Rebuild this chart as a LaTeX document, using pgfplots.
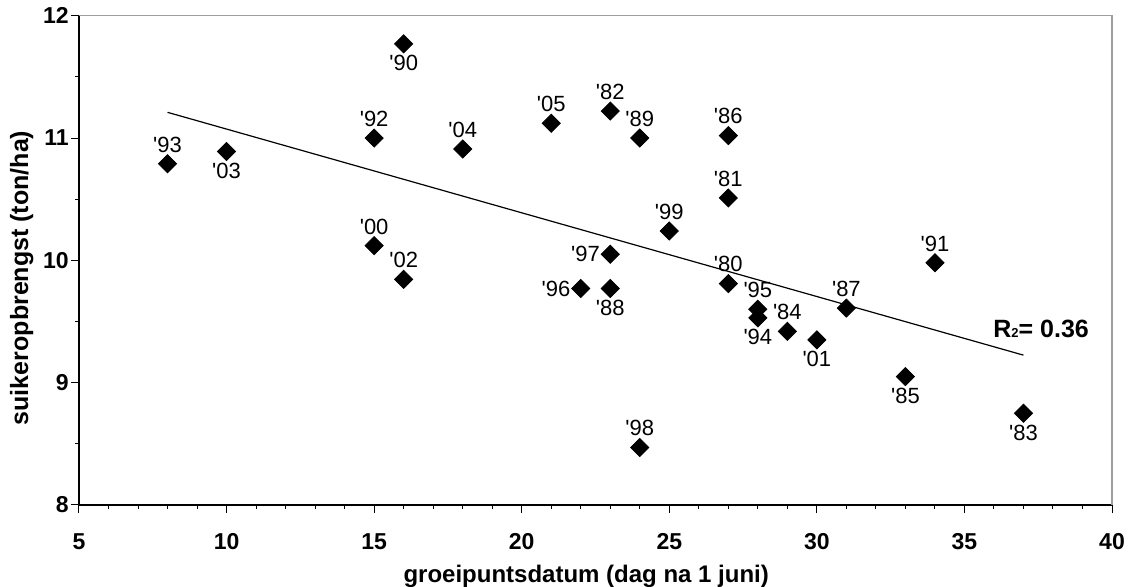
\documentclass[border=0pt]{standalone}
\usepackage{pgfplots}
\pgfplotsset{compat=1.18}
\usepackage{pgfplotstable}
\usepackage{fontspec}
\setmainfont{Liberation Sans}[Ligatures=TeXOff]

\pgfplotstableread{
x y
8 10.79
10 10.89
15 11.00
15 10.12
16 11.77
16 9.845
18 10.91
21 11.12
22 9.77
23 11.22
23 10.05
23 9.77
24 11.00
24 8.47
25 10.24
27 11.02
27 10.51
27 9.81
28 9.60
28 9.53
29 9.42
30 9.35
31 9.61
33 9.05
34 9.98
37 8.75
}\pts

\pgfplotstableread{
x y lab
8 10.79 '93
15 11.00 '92
15 10.12 '00
16 9.845 '02
18 10.91 '04
21 11.12 '05
23 11.22 '82
24 11.00 '89
24 8.47 '98
25 10.24 '99
27 11.02 '86
27 10.51 '81
27 9.81 '80
28 9.60 '95
29 9.42 '84
31 9.61 '87
34 9.98 '91
}\above

\pgfplotstableread{
x y lab
10 10.89 '03
16 11.77 '90
23 9.77 '88
28 9.53 '94
30 9.35 '01
33 9.05 '85
37 8.75 '83
}\below

\pgfplotstableread{
x y lab
22 9.77 '96
23 10.05 '97
}\leftlab

\begin{document}
\begin{tikzpicture}
\begin{axis}[
  scale only axis,
  width=516.5pt, height=244.65pt,
  xmin=5, xmax=40, ymin=8, ymax=12,
  axis lines*=left,
  axis line style={-, black, line width=0.6pt},
  xtick={5,10,...,40}, ytick={8,9,10,11,12},
  minor x tick num=4, minor y tick num=1,
  tick align=outside,
  major tick length=4pt, minor tick length=2pt,
  tick style={black, line width=0.5pt},
  /pgf/number format/assume math mode=true,
  ticklabel style={font=\fontsize{11.5}{13}\selectfont\bfseries},
  xticklabel style={anchor=center, yshift=-14.5pt},
  yticklabel style={anchor=east, inner sep=0pt, xshift=-1pt},
  xlabel={groeipuntsdatum (dag na 1 juni)},
  ylabel={suikeropbrengst (ton/ha)},
  xlabel style={font=\fontsize{12}{14}\selectfont\bfseries, at={(axis description cs:0.491,-0.1465)}, anchor=center},
  ylabel style={font=\fontsize{12.5}{14}\selectfont\bfseries, at={(axis description cs:-0.0555,0.464)}, anchor=center},
  clip=false,
]
\draw[black!38, line width=0.6pt] (rel axis cs:0,1) -- (rel axis cs:1,1) -- (rel axis cs:1,0);
\addplot[black, line width=0.6pt, mark=none] coordinates {(8,11.21) (37,9.225)};
\addplot[only marks, mark=square*, mark size=3.2pt, mark options={rotate=45, fill=black, draw=none}] table {\pts};
\addplot[draw=none, mark=none, nodes near coords, point meta=explicit symbolic,
  nodes near coords style={anchor=south, yshift=5.5pt, inner sep=0pt, font=\fontsize{11}{12}\selectfont}]
  table[meta=lab] {\above};
\addplot[draw=none, mark=none, nodes near coords, point meta=explicit symbolic,
  nodes near coords style={anchor=north, yshift=-5.5pt, inner sep=0pt, font=\fontsize{11}{12}\selectfont}]
  table[meta=lab] {\below};
\addplot[draw=none, mark=none, nodes near coords, point meta=explicit symbolic,
  nodes near coords style={anchor=east, xshift=-5pt, inner sep=0pt, font=\fontsize{11}{12}\selectfont}]
  table[meta=lab] {\leftlab};
\node[font=\fontsize{12.5}{14}\selectfont\bfseries, anchor=center] at (axis cs:37.6,9.44)
  {R{\fontsize{6.5}{6.5}\selectfont 2}= 0.36};
\end{axis}
\pgfresetboundingbox
\path[use as bounding box] ([shift={(-39.5pt,-41pt)}]current axis.south west) rectangle ([shift={(10pt,7.85pt)}]current axis.north east);
\end{tikzpicture}
\end{document}
